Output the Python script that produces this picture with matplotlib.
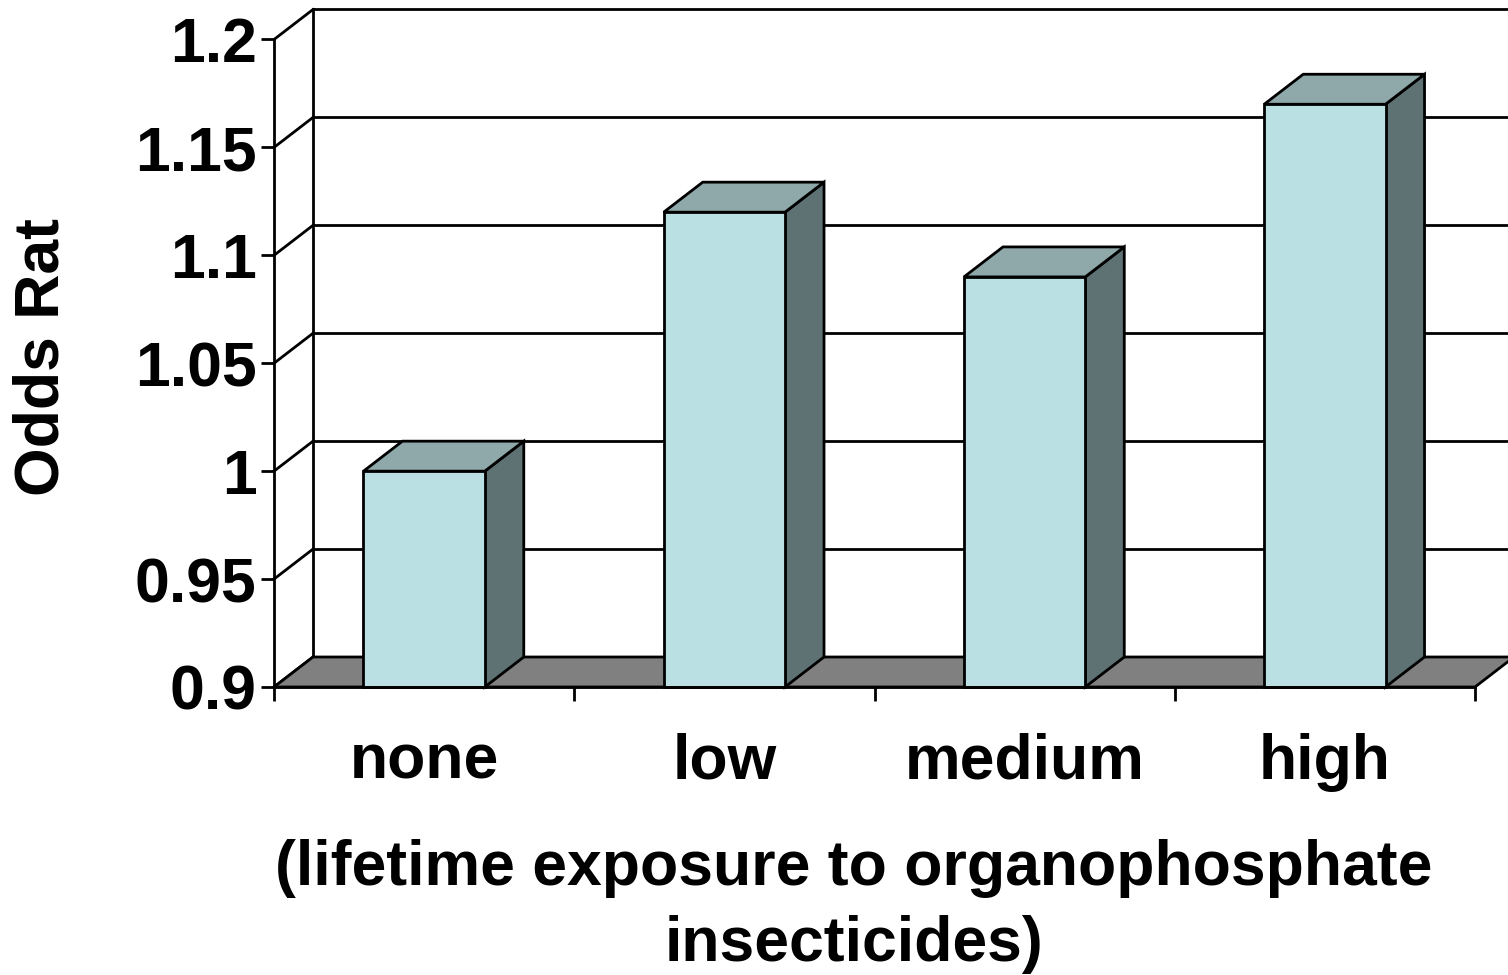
import matplotlib
matplotlib.use("Agg")
import matplotlib.pyplot as plt
from matplotlib.patches import Polygon, Rectangle

categories = ["none", "low", "medium", "high"]
odds_ratio = [1.00, 1.12, 1.09, 1.17]
yticks = [0.9, 0.95, 1.0, 1.05, 1.1, 1.15, 1.2]
ytick_labels = ["0.9", "0.95", "1", "1.05", "1.1", "1.15", "1.2"]
ylabel = "Odds Rat"
xlabel_lines = ["(lifetime exposure to organophosphate", "insecticides)"]

W, H = 1508, 975
fig = plt.figure(figsize=(W / 100, H / 100), dpi=100)
fig.patch.set_facecolor("white")

# front plane of the 3-D chart
x_left, x_right, y_bot, y_top = 274, 1475, 687, 39.5
ax = fig.add_axes([x_left / W, (H - y_bot) / H, (x_right - x_left) / W, (y_bot - y_top) / H])
ax.set_xlim(0, 4)
ax.set_ylim(0.9, 1.2)
ax.patch.set_alpha(0)

px_x = (x_right - x_left) / 4
px_y = (y_bot - y_top) / 0.3
dx = 39 / px_x
dy = 30 / px_y

LW = 2.0
FS = 45
FONT = "Liberation Sans"

ymin, ymax = 0.9, 1.2
xend = 4 + dx

# back wall gridlines and side-wall diagonals
for v in yticks:
    if v > ymin + 1e-9:
        ax.plot([dx, xend], [v + dy, v + dy], color="black", lw=LW, clip_on=False, zorder=1,
                solid_capstyle="butt")
    ax.plot([0, dx], [v, v + dy], color="black", lw=LW, clip_on=False, zorder=1)
ax.plot([dx, dx], [ymin + dy, ymax + dy], color="black", lw=LW, clip_on=False, zorder=1)

# floor
floor = Polygon([(0, ymin), (4, ymin), (4 + dx, ymin + dy), (dx, ymin + dy)],
                closed=True, facecolor="#808080", edgecolor="black", lw=LW,
                clip_on=False, zorder=2)
ax.add_patch(floor)

# bars
bw = 0.404
front_c, top_c, side_c = "#BAE0E3", "#8FA9AB", "#5E7173"
for i, v in enumerate(odds_ratio):
    x0 = i + 0.5 - bw / 2
    x1 = x0 + bw
    side = Polygon([(x1, ymin), (x1 + dx, ymin + dy), (x1 + dx, v + dy), (x1, v)],
                   closed=True, facecolor=side_c, edgecolor="black", lw=LW,
                   clip_on=False, zorder=3, joinstyle="miter")
    top = Polygon([(x0, v), (x1, v), (x1 + dx, v + dy), (x0 + dx, v + dy)],
                  closed=True, facecolor=top_c, edgecolor="black", lw=LW,
                  clip_on=False, zorder=3, joinstyle="miter")
    front = Rectangle((x0, ymin), bw, v - ymin, facecolor=front_c, edgecolor="black",
                      lw=LW, clip_on=False, zorder=4, joinstyle="miter")
    ax.add_patch(side)
    ax.add_patch(top)
    ax.add_patch(front)

# axes spines / ticks
for s in ["top", "right"]:
    ax.spines[s].set_visible(False)
for s in ["left", "bottom"]:
    ax.spines[s].set_linewidth(LW)
    ax.spines[s].set_zorder(5)

ax.set_yticks(yticks)
ax.set_yticklabels(ytick_labels, fontsize=FS, fontweight="bold", fontfamily=FONT)
ax.tick_params(axis="y", direction="out", length=9.5, width=LW, pad=3)

ax.set_xticks([0, 1, 2, 3, 4])
ax.set_xticklabels([])
ax.tick_params(axis="x", which="major", direction="out", length=10, width=LW)
ax.set_xticks([0.5, 1.5, 2.5, 3.5], minor=True)
ax.set_xticklabels(categories, minor=True, fontsize=FS, fontweight="bold", fontfamily=FONT)
ax.tick_params(axis="x", which="minor", length=0, pad=33)

fig.text(42 / W, 1 - 357 / H, ylabel, rotation=90, ha="center", va="center",
         fontsize=FS, fontweight="bold", fontfamily=FONT)
for line, yb in zip(xlabel_lines, [885, 961]):
    fig.text(854 / W, 1 - yb / H, line, ha="center", va="baseline",
             fontsize=FS, fontweight="bold", fontfamily=FONT)

fig.savefig("out.png", dpi=100, facecolor="white")
